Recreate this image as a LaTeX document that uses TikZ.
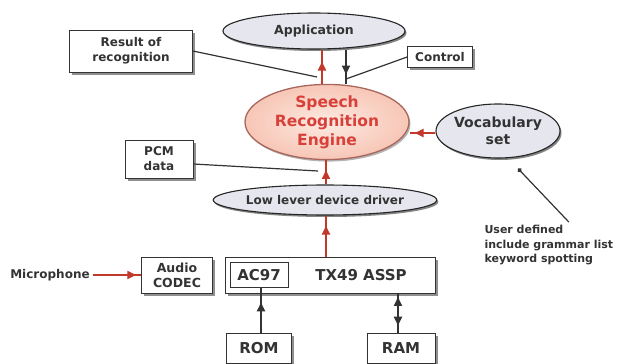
\documentclass[tikz,border=0pt]{standalone}
\usepackage{fontspec}
\setmainfont{DejaVu Sans}
\usetikzlibrary{shapes,arrows.meta,shadows,decorations.markings}

\definecolor{ovalfill}{HTML}{E6E6EF}
\definecolor{enginein}{HTML}{FDEAE2}
\definecolor{engineout}{HTML}{F7C6B6}
\definecolor{engineline}{HTML}{A8665C}
\definecolor{enginetext}{HTML}{D8403A}
\definecolor{flowred}{HTML}{C0392B}
\definecolor{labelgray}{HTML}{333333}

\begin{document}
\begin{tikzpicture}[x=1pt,y=-1pt,
  font=\bfseries\fontsize{12}{15}\selectfont,
  text=labelgray,
  box/.style={rectangle,draw=black!80,fill=white,line width=0.8pt,inner sep=0pt,align=center,
    drop shadow={shadow xshift=2.5pt,shadow yshift=-2.5pt,fill=black!55,opacity=0.8}},
  oval/.style={ellipse,draw=black!85,line width=1.1pt,fill=ovalfill,inner sep=0pt,align=center,
    drop shadow={shadow xshift=1.5pt,shadow yshift=-2pt,fill=black!60,opacity=0.8}},
  bigtext/.style={font=\bfseries\fontsize{15}{18}\selectfont},
  wire/.style={draw=black!80,line width=1.2pt},
  redwire/.style={draw=flowred,line width=1.3pt},
  midtip/.style={postaction={decorate,decoration={markings,
    mark=at position #1 with {\arrow{Latex[length=10pt,width=9pt]}}}}},
  backtip/.style={postaction={decorate,decoration={markings,
    mark=at position #1 with {\arrow{Latex[length=10pt,width=9pt,reversed]}}}}}]
  \useasboundingbox (0,0) rectangle (624,364);

  % Upper layer
  \node[oval,minimum width=182,minimum height=36,font=\bfseries\fontsize{12.5}{15}\selectfont]
    (app) at (314,31) {Application};
  \node[ellipse,draw=engineline,line width=1.3pt,inner color=enginein,outer color=engineout,
    minimum width=164,minimum height=66,inner sep=0pt,align=center,text=enginetext,
    font=\bfseries\fontsize{15.5}{19}\selectfont,
    drop shadow={shadow xshift=1.5pt,shadow yshift=-2pt,fill=black!50,opacity=0.6}]
    (eng) at (327,122) {Speech\\Recognition\\Engine};
  \node[oval,minimum width=108,minimum height=54,font=\bfseries\fontsize{14}{17}\selectfont]
    (voc) at (498,131) {Vocabulary\\set};
  \node[box,minimum width=123,minimum height=42] (res) at (131,51) {Result of\\recognition};
  \node[box,minimum width=65,minimum height=21] (ctl) at (440,57) {Control};
  \node[box,minimum width=68,minimum height=38] (pcm) at (159,159) {PCM\\data};
  \node[oval,minimum width=214,minimum height=30] (drv) at (325,200) {Low lever device driver};
  \node[anchor=north west,align=left,font=\bfseries\fontsize{11}{14.5}\selectfont]
    (usr) at (481,222) {User defined\\include grammar list\\keyword spotting};

  % Hardware
  \node (mic) at (50,275) {Microphone};
  \node[box,minimum width=71,minimum height=36,font=\bfseries\fontsize{12.5}{15}\selectfont]
    (codec) at (177,275) {Audio\\CODEC};
  \node[box,minimum width=210,minimum height=36] (tx) at (330,275) {};
  \node[bigtext] (txname) at (361,275) {TX49 ASSP};
  \node[rectangle,draw=black!80,line width=0.8pt,minimum width=58,minimum height=25,bigtext]
    (ac) at (259,275) {AC97};
  \node[box,minimum width=65,minimum height=30,bigtext] (rom) at (259,348) {ROM};
  \node[box,minimum width=68,minimum height=30,bigtext] (ram) at (401,348) {RAM};

  % Connectors
  \coordinate (resjoin) at (317,77);
  \coordinate (ctljoin) at (346,79);
  \coordinate (pcmjoin) at (318,171);
  \draw[redwire,midtip=0.68] ([xshift=-5pt]eng.north) -- ([xshift=8pt]app.south);
  \draw[wire,midtip=0.76] ([xshift=32pt]app.south) -- ([xshift=19pt]eng.north);
  \draw[wire] (res.east) -- (resjoin);
  \draw[wire] (ctl.west) -- (ctljoin);
  \draw[redwire,midtip=0.85] ([yshift=-2pt]voc.west) -- ([yshift=-11pt]eng.east);
  \draw[wire,{Circle[length=4.5pt]}-] ([shift={(20pt,-10pt)}]voc.south) -- ([xshift=20pt]usr.north);
  \draw[redwire,midtip=0.64] ([xshift=1pt]drv.north) -- ([xshift=-1pt]eng.south);
  \draw[wire] ([yshift=-5pt]pcm.east) -- (pcmjoin);
  \draw[redwire,midtip=0.78] ([xshift=-4pt]tx.north) -- ([xshift=1pt]drv.south);
  \draw[redwire,midtip=0.92] (mic.east) -- (codec.west);
  \draw[wire,midtip=0.7] ([xshift=2pt]rom.north) -- ([xshift=2pt]ac.south);
  \draw[wire,backtip=0.32,midtip=0.85] ([xshift=68pt]tx.south) -- ([xshift=-3pt]ram.north);
\end{tikzpicture}
\end{document}
